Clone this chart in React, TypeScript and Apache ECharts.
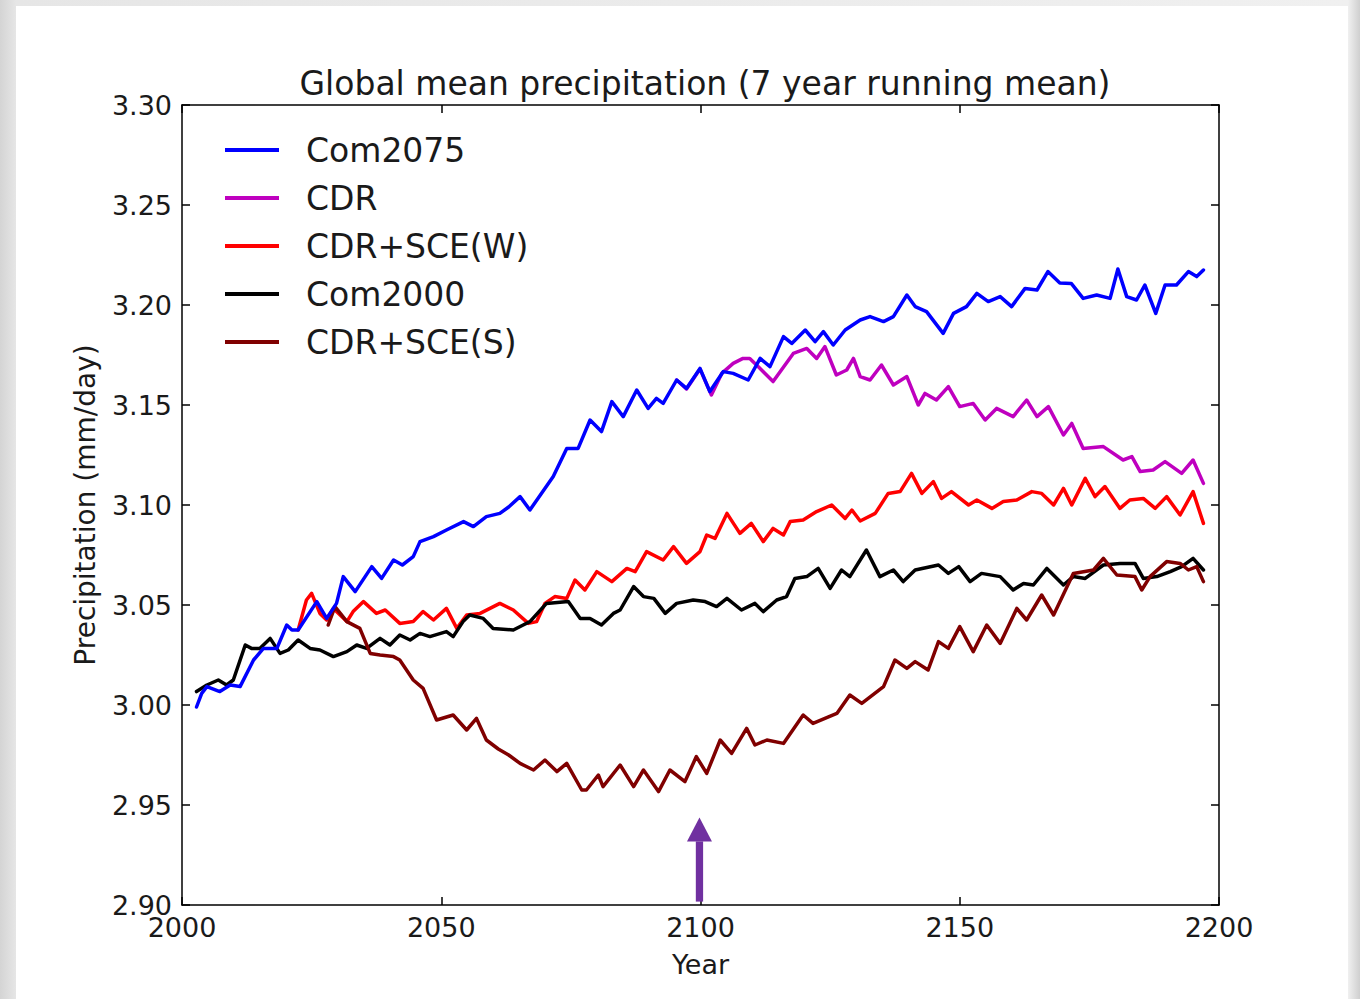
import React, { useEffect, useRef } from "react";
import * as echarts from "echarts";

const seriesNames = ["Com2075", "CDR", "CDR+SCE(W)", "Com2000", "CDR+SCE(S)"];
const seriesColors = ["#0000ff", "#bf00bf", "#ff0000", "#000000", "#800000"];

const xTicks = [2000, 2050, 2100, 2150, 2200];
const yTicks = [2.9, 2.95, 3.0, 3.05, 3.1, 3.15, 3.2, 3.25, 3.3];

const com2075: [number, number][] = [
  [2002.8, 2.999], [2003.8, 3.0058], [2004.8, 3.0092], [2007.3, 3.0067], [2009.3, 3.01], [2011.2, 3.0092],
  [2013.8, 3.0225], [2015.7, 3.0283], [2018.3, 3.0283], [2020.2, 3.04], [2021.2, 3.0375], [2022.4, 3.0375],
  [2026, 3.0517], [2027.9, 3.0433], [2029.8, 3.0508], [2031.1, 3.0642], [2033.4, 3.0567], [2036.6, 3.0692],
  [2038.5, 3.0633], [2040.8, 3.0725], [2042.5, 3.07], [2044.6, 3.0742], [2045.9, 3.0817], [2048.5, 3.0842],
  [2051, 3.0875], [2054.3, 3.0917], [2056.2, 3.0892], [2058.7, 3.0942], [2061.3, 3.0958], [2063, 3.099],
  [2065.2, 3.1042], [2067.1, 3.0975], [2071.6, 3.1142], [2074.2, 3.1283], [2076.4, 3.1283], [2078.7, 3.1425],
  [2080.9, 3.1367], [2082.9, 3.1517], [2085.1, 3.1442], [2087.7, 3.1575], [2089.9, 3.1483], [2091.5, 3.1533],
  [2092.8, 3.1508], [2095.4, 3.1625], [2097.3, 3.1583], [2099.9, 3.1683], [2101.8, 3.1567], [2104.4, 3.1667],
  [2106.3, 3.1658], [2109.2, 3.1625], [2111.5, 3.1733], [2113.4, 3.1692], [2116, 3.1842], [2117.6, 3.1808],
  [2120.2, 3.1875], [2122.1, 3.1817], [2123.7, 3.1867], [2125.6, 3.18], [2127.9, 3.1875], [2130.8, 3.1925],
  [2132.7, 3.1942], [2135.3, 3.1917], [2137.2, 3.1942], [2139.8, 3.205], [2141.4, 3.1992], [2143.6, 3.1967],
  [2146.8, 3.1858], [2148.8, 3.1958], [2151.3, 3.1992], [2153.3, 3.2058], [2155.5, 3.2017], [2157.8, 3.2042],
  [2160, 3.1992], [2162.6, 3.2083], [2164.9, 3.2075], [2167, 3.2167], [2169.3, 3.211], [2171.5, 3.2108],
  [2173.8, 3.2033], [2176.4, 3.205], [2179, 3.2033], [2180.5, 3.218], [2182.2, 3.2042], [2184.1, 3.2025],
  [2185.7, 3.21], [2187.8, 3.1958], [2189.6, 3.21], [2191.8, 3.21], [2194.1, 3.2167], [2195.7, 3.2142],
  [2197, 3.2175],
];

const cdr: [number, number][] = [
  [2095.4, 3.1625], [2097.3, 3.158], [2099.9, 3.168], [2102.1, 3.155], [2104.1, 3.1658], [2106.3, 3.1708],
  [2108.2, 3.1733], [2109.5, 3.1733], [2111.2, 3.169], [2114, 3.1617], [2117.9, 3.1758], [2120.5, 3.1783],
  [2122.4, 3.1733], [2124, 3.1792], [2126.2, 3.165], [2128.2, 3.1675], [2129.5, 3.1733], [2130.8, 3.1642],
  [2132.7, 3.1625], [2134.9, 3.17], [2137.2, 3.16], [2139.8, 3.1642], [2142, 3.15], [2143.3, 3.1558],
  [2145.5, 3.1525], [2147.8, 3.1592], [2150, 3.1492], [2152.6, 3.1508], [2154.9, 3.1425], [2157.1, 3.1483],
  [2160.3, 3.1442], [2162.9, 3.1525], [2164.9, 3.1442], [2167.1, 3.1492], [2170, 3.135], [2171.6, 3.1408],
  [2173.8, 3.1283], [2177.7, 3.1292], [2181.5, 3.1225], [2183.2, 3.1242], [2184.8, 3.1167], [2187.3, 3.1175],
  [2189.6, 3.1217], [2192.8, 3.1158], [2195, 3.1225], [2197, 3.1108],
];

const cdrSceW: [number, number][] = [
  [2022.4, 3.0375], [2024, 3.0525], [2025, 3.0558], [2026.6, 3.0458], [2027.9, 3.0425], [2029.2, 3.0483],
  [2031.8, 3.0417], [2033, 3.0467], [2035, 3.0517], [2037.5, 3.0458], [2039.2, 3.0475], [2042, 3.0408],
  [2044.6, 3.0417], [2046.5, 3.0467], [2048.5, 3.0425], [2051, 3.0483], [2053, 3.0383], [2054.9, 3.045],
  [2057.5, 3.0458], [2061.3, 3.0508], [2063.9, 3.0475], [2066.8, 3.0408], [2068.4, 3.0417], [2070, 3.0508],
  [2071.9, 3.0542], [2074.2, 3.0533], [2075.8, 3.0625], [2077.7, 3.0575], [2080, 3.0667], [2082.9, 3.0617],
  [2085.8, 3.0683], [2087.4, 3.0667], [2089.6, 3.0767], [2092.8, 3.0725], [2094.8, 3.0792], [2097.3, 3.0708],
  [2099.9, 3.0767], [2101.2, 3.085], [2102.8, 3.0833], [2105.1, 3.0958], [2107.6, 3.0858], [2109.8, 3.0908],
  [2112.1, 3.0817], [2114, 3.0883], [2116, 3.085], [2117.3, 3.0917], [2119.8, 3.0925], [2122.4, 3.0967],
  [2125.3, 3.1], [2127.9, 3.0933], [2129.2, 3.0975], [2130.8, 3.092], [2133.7, 3.0958], [2136.2, 3.1058],
  [2138.5, 3.1067], [2140.7, 3.1158], [2142.7, 3.1058], [2144.9, 3.1117], [2146.5, 3.1033], [2148.4, 3.1067],
  [2151.7, 3.1], [2153.3, 3.1025], [2156.2, 3.0983], [2158.4, 3.1017], [2161, 3.1025], [2163.9, 3.1067],
  [2165.8, 3.1058], [2168.1, 3.1], [2170, 3.1083], [2171.6, 3.1], [2174.2, 3.1133], [2176.1, 3.1042],
  [2178, 3.1092], [2180.9, 3.0983], [2182.8, 3.1025], [2185.4, 3.1033], [2187.7, 3.0983], [2189.9, 3.1042],
  [2192.5, 3.095], [2195, 3.1067], [2197, 3.0908],
];

const com2000: [number, number][] = [
  [2002.8, 3.0067], [2004.8, 3.01], [2007, 3.0125], [2008.6, 3.01], [2009.9, 3.0125], [2012.2, 3.03],
  [2013.4, 3.0283], [2015, 3.0283], [2017, 3.0333], [2018.9, 3.0258], [2020.5, 3.0275], [2022.4, 3.0325],
  [2024.7, 3.0283], [2026.6, 3.0275], [2029.2, 3.0242], [2031.8, 3.0267], [2033.7, 3.03], [2035.6, 3.0283],
  [2038.2, 3.0333], [2040.1, 3.03], [2042, 3.035], [2044, 3.0325], [2045.9, 3.0358], [2047.8, 3.0342],
  [2051, 3.0367], [2052.3, 3.0342], [2054.2, 3.0417], [2055.5, 3.045], [2058.1, 3.0433], [2060, 3.0383],
  [2063.9, 3.0375], [2065.8, 3.04], [2067.1, 3.0417], [2070.3, 3.0508], [2074.5, 3.0517], [2076.8, 3.0433],
  [2078.7, 3.0433], [2080.9, 3.04], [2083.2, 3.0458], [2084.5, 3.0475], [2087.1, 3.0592], [2089, 3.0542],
  [2091, 3.0533], [2093.2, 3.0458], [2095.4, 3.0508], [2098.6, 3.0525], [2100.9, 3.0517], [2103.1, 3.0492],
  [2105.1, 3.0533], [2107.9, 3.0475], [2110.5, 3.0508], [2112.1, 3.0467], [2114.7, 3.0525], [2116.6, 3.0542],
  [2118.2, 3.0633], [2120.5, 3.0642], [2122.7, 3.0683], [2125, 3.0583], [2127.2, 3.0675], [2128.8, 3.0642],
  [2132, 3.0775], [2134.6, 3.0642], [2137.2, 3.0675], [2139.1, 3.0617], [2141.4, 3.0675], [2145.9, 3.07],
  [2147.8, 3.0658], [2149.8, 3.0692], [2152, 3.0617], [2154.2, 3.0658], [2157.8, 3.0642], [2160.3, 3.0575],
  [2162.3, 3.0608], [2164.2, 3.06], [2166.8, 3.0683], [2170, 3.06], [2171.9, 3.0642], [2174.2, 3.0633],
  [2177.7, 3.07], [2180.9, 3.0708], [2183.8, 3.0708], [2185.4, 3.0633], [2188, 3.0642], [2190.6, 3.0667],
  [2192.8, 3.0692], [2195, 3.0733], [2197, 3.0675],
];

const cdrSceS: [number, number][] = [
  [2028.2, 3.04], [2029.5, 3.0492], [2031.8, 3.0417], [2034.3, 3.0383], [2036.3, 3.0258], [2038.2, 3.025],
  [2040.8, 3.0242], [2042, 3.0225], [2044.6, 3.0125], [2046.5, 3.0083], [2049.1, 2.9925], [2052.3, 2.995],
  [2054.9, 2.9875], [2056.8, 2.9933], [2058.7, 2.9825], [2061, 2.978], [2063, 2.975], [2065.2, 2.9708],
  [2067.8, 2.9675], [2070, 2.9725], [2072.3, 2.9667], [2074.2, 2.9708], [2077.1, 2.9575], [2078, 2.9575],
  [2080.3, 2.965], [2081.2, 2.9592], [2084.5, 2.97], [2087.1, 2.9592], [2089, 2.9675], [2091.9, 2.9567],
  [2094.1, 2.9675], [2097, 2.9617], [2099.2, 2.9742], [2101.2, 2.9658], [2103.8, 2.9825], [2106, 2.9758],
  [2108.9, 2.9883], [2110.5, 2.98], [2112.8, 2.9825], [2116, 2.9808], [2119.8, 2.995], [2121.7, 2.9908],
  [2126.3, 2.9958], [2128.8, 3.005], [2131.1, 3.0008], [2135.3, 3.0092], [2137.5, 3.0225], [2139.8, 3.0183],
  [2141.4, 3.0217], [2143.9, 3.0175], [2145.9, 3.0317], [2147.8, 3.0283], [2150, 3.0392], [2152.6, 3.0267],
  [2155.2, 3.04], [2157.8, 3.0308], [2161, 3.0483], [2162.9, 3.0425], [2165.8, 3.055], [2168.1, 3.045],
  [2171.9, 3.0658], [2175.8, 3.0675], [2177.7, 3.0733], [2180.3, 3.065], [2183.8, 3.0642], [2185.1, 3.0575],
  [2186.7, 3.0642], [2189.9, 3.0717], [2192.5, 3.0708], [2194.1, 3.0675], [2195.7, 3.0692], [2197, 3.0617],
];

// arrow annotation: [year, base value, tip value]
const arrowData: [number, number, number][] = [[2099.8, 2.9017, 2.9438]];

const FONT = "DejaVu Sans";

export default function App() {
  const ref = useRef<HTMLDivElement>(null);

  useEffect(() => {
    if (!ref.current) return;
    const chart = echarts.init(ref.current, undefined, { renderer: "svg" });

    const dataBy: Record<string, [number, number][]> = {
      Com2075: com2075,
      CDR: cdr,
      "CDR+SCE(W)": cdrSceW,
      Com2000: com2000,
      "CDR+SCE(S)": cdrSceS,
    };
    const drawOrder = ["CDR", "CDR+SCE(W)", "Com2000", "CDR+SCE(S)", "Com2075"];

    const axisLine = { show: true, lineStyle: { color: "#000", width: 1.5 } };
    const axisTick = { show: true, inside: true, length: 8, lineStyle: { color: "#000", width: 1.5 } };
    const tickLabel = { fontFamily: FONT, fontSize: 27, color: "#1a1a1a" };

    const lineSeries = drawOrder.map((name) => {
      const i = seriesNames.indexOf(name);
      return {
        name,
        type: "line",
        data: dataBy[name],
        showSymbol: false,
        symbol: "none",
        color: seriesColors[i],
        lineStyle: { color: seriesColors[i], width: 3.5, join: "round", cap: "round" },
        z: 2,
      };
    });

    const option: any = {
      animation: false,
      backgroundColor: "transparent",
      title: {
        text: "Global mean precipitation (7 year running mean)",
        left: 700,
        top: 62,
        textAlign: "center",
        textStyle: { fontFamily: FONT, fontSize: 33, fontWeight: "normal", color: "#1a1a1a" },
      },
      legend: {
        data: seriesNames,
        orient: "vertical",
        left: 220,
        top: 127,
        itemWidth: 54,
        itemHeight: 4,
        itemGap: 12,
        icon: "rect",
        textStyle: { fontFamily: FONT, fontSize: 33, color: "#1a1a1a", lineHeight: 36, padding: [0, 0, 0, 22] },
        selectedMode: false,
      },
      grid: { left: 182, top: 105, right: 141, bottom: 94, containLabel: false },
      xAxis: [
        {
          type: "value",
          position: "bottom",
          min: xTicks[0],
          max: xTicks[xTicks.length - 1],
          interval: 50,
          name: "Year",
          nameLocation: "middle",
          nameGap: 46,
          nameTextStyle: { fontFamily: FONT, fontSize: 27, color: "#1a1a1a" },
          axisLine,
          axisTick,
          axisLabel: { ...tickLabel, margin: 9, formatter: (v: number) => String(v) },
          splitLine: { show: false },
        },
        {
          type: "value",
          position: "top",
          min: xTicks[0],
          max: xTicks[xTicks.length - 1],
          interval: 50,
          axisLine,
          axisTick,
          axisLabel: { show: false },
          splitLine: { show: false },
        },
      ],
      yAxis: [
        {
          type: "value",
          position: "left",
          min: yTicks[0],
          max: yTicks[yTicks.length - 1],
          interval: 0.05,
          name: "Precipitation (mm/day)",
          nameLocation: "middle",
          nameGap: 83,
          nameTextStyle: { fontFamily: FONT, fontSize: 28, color: "#1a1a1a" },
          axisLine,
          axisTick,
          axisLabel: { ...tickLabel, margin: 10, formatter: (v: number) => v.toFixed(2) },
          splitLine: { show: false },
        },
        {
          type: "value",
          position: "right",
          min: yTicks[0],
          max: yTicks[yTicks.length - 1],
          interval: 0.05,
          axisLine,
          axisTick,
          axisLabel: { show: false },
          splitLine: { show: false },
        },
      ],
      series: [
        ...lineSeries,
        {
          name: "arrow",
          type: "custom",
          data: arrowData,
          z: 5,
          silent: true,
          renderItem: (params: any, api: any) => {
            const base = api.coord([api.value(0), api.value(1)]);
            const tip = api.coord([api.value(0), api.value(2)]);
            const headH = 24;
            const headW = 25;
            const shaftW = 7.3;
            return {
              type: "group",
              children: [
                {
                  type: "rect",
                  shape: { x: base[0] - shaftW / 2, y: tip[1] + headH, width: shaftW, height: base[1] - tip[1] - headH },
                  style: { fill: "#7030a0" },
                },
                {
                  type: "polygon",
                  shape: { points: [[tip[0], tip[1]], [tip[0] - headW / 2, tip[1] + headH], [tip[0] + headW / 2, tip[1] + headH]] },
                  style: { fill: "#7030a0" },
                },
              ],
            };
          },
        },
      ],
    };

    chart.setOption(option);
    return () => chart.dispose();
  }, []);

  return (
    <div style={{ position: "absolute", left: 0, top: 0, width: 1360, height: 999, background: "linear-gradient(90deg, #d4d4d4 0px, #e6e6e6 16px, #f0f0f0 1348px, #cfcfcf 1360px)", overflow: "hidden" }}>
      <div style={{ position: "absolute", left: 16, top: 6, width: 1332, height: 993, background: "#ffffff" }} />
      <div ref={ref} style={{ position: "absolute", left: 0, top: 0, width: 1360, height: 999 }} />
    </div>
  );
}
